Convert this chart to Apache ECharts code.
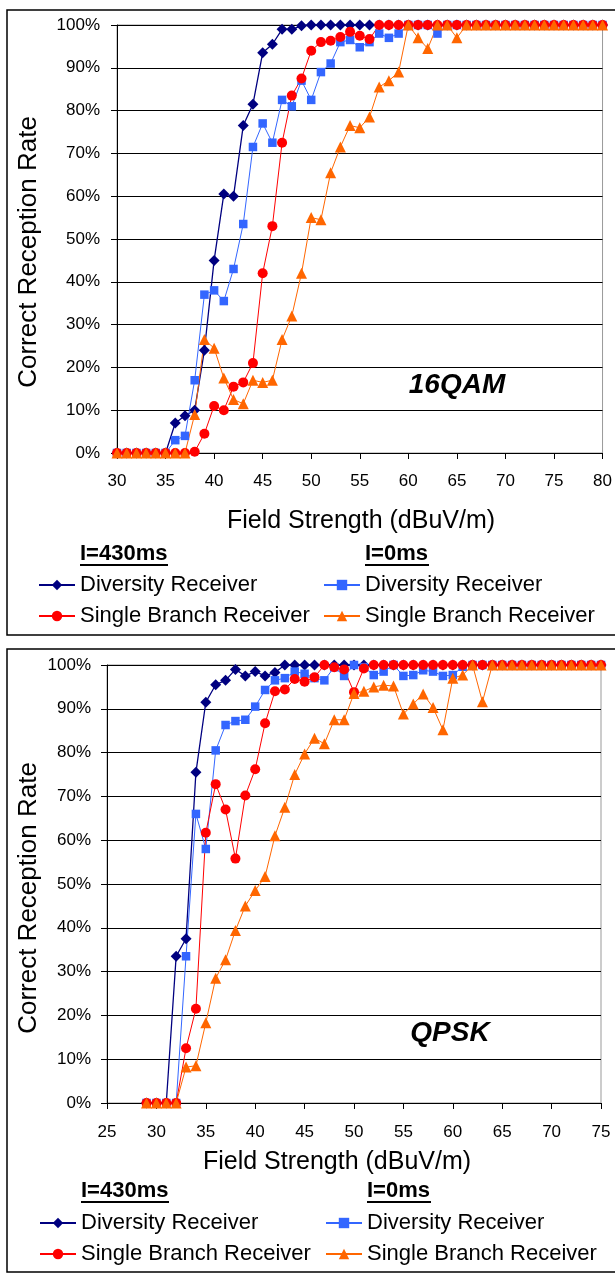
<!DOCTYPE html>
<html>
<head>
<meta charset="utf-8">
<script src="https://cdn.jsdelivr.net/npm/echarts@6/dist/echarts.min.js"></script>
<style>
  html, body { margin: 0; padding: 0; background: #fff; }
  #main { width: 615px; height: 1275px; }
</style>
</head>
<body>
<div id="main"></div>
<script>
// 获取dom节点并初始化
let chartDom = document.getElementById('main');
let myChart = echarts.init(chartDom);
let option;

const FONT = 'Liberation Sans, Arial, sans-serif';

/* 16QAM 数据 (dBuV/m -> %) */
let field16 = [30, 31, 32, 33, 34, 35, 36, 37, 38, 39, 40, 41, 42, 43, 44, 45, 46, 47, 48, 49, 50,
  51, 52, 53, 54, 55, 56, 57, 58, 59, 60, 61, 62, 63, 64, 65, 66, 67, 68, 69, 70,
  71, 72, 73, 74, 75, 76, 77, 78, 79, 80];
let div430_16 = [0, 0, 0, 0, 0, 0, 7, 8.7, 10, 24, 45, 60.5, 60, 76.5, 81.5, 93.5, 95.5, 99, 99, 99.8, 100,
  100, 100, 100, 100, 100, 100, 100, 100, 100, 100, 100, 100, 100, 100, 100, 100, 100, 100, 100, 100,
  100, 100, 100, 100, 100, 100, 100, 100, 100, 100];
let div0_16 = [0, 0, 0, 0, 0, 0, 3, 4, 17, 37, 38, 35.5, 43, 53.5, 71.5, 77, 72.5, 82.5, 81, 87, 82.5,
  89, 91, 96, 96.5, 94.8, 96, 98, 97, 98, 100, 100, 100, 98, 100, 100, 100, 100, 100, 100, 100,
  100, 100, 100, 100, 100, 100, 100, 100, 100, 100];
let sb430_16 = [0, 0, 0, 0, 0, 0, 0, 0, 0.3, 4.5, 11, 10, 15.5, 16.5, 21, 42, 53, 72.5, 83.5, 87.5, 94,
  96, 96.3, 97.2, 98.4, 97.5, 96.7, 100, 100, 100, 100, 100, 100, 100, 100, 100, 100, 100, 100, 100, 100,
  100, 100, 100, 100, 100, 100, 100, 100, 100, 100];
let sb0_16 = [0, 0, 0, 0, 0, 0, 0, 0, 9, 26.5, 24.5, 17.5, 12.5, 11.5, 17, 16.5, 17, 26.5, 32, 42, 55,
  54.5, 65.5, 71.5, 76.5, 76, 78.5, 85.5, 87, 89, 100, 97, 94.5, 100, 100, 97, 100, 100, 100, 100, 100,
  100, 100, 100, 100, 100, 100, 100, 100, 100, 100];

/* QPSK 数据 */
let fieldQ = [29, 30, 31, 32, 33, 34, 35, 36, 37, 38, 39, 40, 41, 42, 43, 44, 45, 46, 47, 48, 49, 50,
  51, 52, 53, 54, 55, 56, 57, 58, 59, 60, 61, 62, 63, 64, 65, 66, 67, 68, 69, 70,
  71, 72, 73, 74, 75];
let div430_Q = [0, 0, 0, 33.5, 37.5, 75.5, 91.5, 95.5, 96.5, 99, 97.5, 98.5, 97.5, 98.3, 100, 100, 100, 100, 100, 100, 100, 100,
  100, 100, 100, 100, 100, 100, 100, 100, 100, 100, 100, 100, 100, 100, 100, 100, 100, 100, 100, 100,
  100, 100, 100, 100, 100];
let div0_Q = [0, 0, 0, 0, 33.5, 66, 58, 80.5, 86.3, 87.2, 87.5, 90.5, 94.3, 96.5, 97, 98.5, 98, 97, 96.5, 99.5, 97.5, 100,
  99.5, 97.7, 98.5, 100, 97.5, 97.7, 98.8, 98.5, 97.5, 97.7, 99.6, 100, 100, 100, 100, 100, 100, 100, 100, 100,
  100, 100, 100, 100, 100];
let sb430_Q = [0, 0, 0, 0, 12.5, 21.5, 61.7, 72.8, 67, 55.8, 70.2, 76.2, 86.7, 94, 94.4, 96.8, 96.2, 97.2, 100, 99.5, 99, 93.8,
  99.2, 100, 100, 100, 100, 100, 100, 100, 100, 100, 100, 100, 100, 100, 100, 100, 100, 100, 100, 100,
  100, 100, 100, 100, 100];
let sb0_Q = [0, 0, 0, 0, 8.2, 8.5, 18.3, 28.5, 32.7, 39.4, 45, 48.5, 51.7, 61, 67.5, 75, 79.7, 83.3, 82, 87.5, 87.5, 93.5,
  94, 95, 95.4, 95.2, 88.8, 91.1, 93.4, 90.3, 85.2, 97, 97.7, 100, 91.6, 100, 100, 100, 100, 100, 100, 100,
  100, 100, 100, 100, 100];

// 系列样式
let styles = {
  div430: { color: '#000080', symbol: 'diamond', symbolSize: 11, width: 1.3 },
  div0: { color: '#3366ff', symbol: 'rect', symbolSize: 8.5, width: 1 },
  sb430: { color: '#ff0000', symbol: 'circle', symbolSize: 10, width: 1 },
  sb0: { color: '#ff6600', symbol: 'triangle', symbolSize: 11, width: 1 }
};

function pairs(xs, ys) {
  return xs.map((x, i) => [x, ys[i]]);
}

function makeSeries(name, key, idx, xs, ys) {
  let s = styles[key];
  return {
    name: name,
    type: 'line',
    xAxisIndex: idx,
    yAxisIndex: idx,
    symbol: s.symbol,
    symbolSize: s.symbolSize,
    showAllSymbol: true,
    itemStyle: { color: s.color },
    lineStyle: { color: s.color, width: s.width },
    emphasis: { disabled: true },
    animation: false,
    data: pairs(xs, ys)
  };
}

function makeXAxis(idx, min, max, margin) {
  return {
    type: 'value',
    gridIndex: idx,
    min: min,
    max: max,
    interval: 5,
    axisLine: { show: true, onZero: false, lineStyle: { color: '#000', width: 1 } },
    axisTick: { show: true, length: 6, lineStyle: { color: '#000' } },
    axisLabel: { color: '#000', fontSize: 17, fontFamily: FONT, margin: margin },
    splitLine: { show: false }
  };
}

function makeYAxis(idx, margin) {
  return {
    type: 'value',
    gridIndex: idx,
    min: 0,
    max: 100,
    interval: 10,
    axisLine: { show: true, lineStyle: { color: '#000', width: 1 } },
    axisTick: { show: true, length: 6, lineStyle: { color: '#000' } },
    axisLabel: { color: '#000', fontSize: 17, fontFamily: FONT, margin: margin, formatter: '{value}%' },
    splitLine: { show: true, lineStyle: { color: '#000', width: 1 } }
  };
}

function makeLegend(name, text, left, centerY) {
  return {
    data: [name],
    left: left,
    top: centerY - 12,
    itemWidth: 36,
    itemHeight: 13,
    itemGap: 0,
    padding: 0,
    selectedMode: false,
    formatter: text,
    textStyle: { fontSize: 22, fontFamily: FONT, color: '#000' }
  };
}

function headText(text, left, centerY, width) {
  return [
    {
      type: 'text', left: left, top: centerY - 11,
      style: { text: text, font: 'bold 22px ' + FONT, fill: '#000' }
    },
    {
      type: 'line',
      shape: { x1: left, y1: centerY + 11, x2: left + width, y2: centerY + 11 },
      style: { stroke: '#000', lineWidth: 2 }
    }
  ];
}

/* 参数配置 */
option = {
  backgroundColor: '#fff',
  animation: false,
  grid: [
    { left: 117, top: 25, width: 486, height: 428, show: true, borderColor: '#999', borderWidth: 1 },
    { left: 107, top: 665, width: 494, height: 438, show: true, borderColor: '#999', borderWidth: 1 }
  ],
  xAxis: [makeXAxis(0, 30, 80, 20), makeXAxis(1, 25, 75, 21)],
  yAxis: [makeYAxis(0, 17), makeYAxis(1, 16)],
  legend: [
    makeLegend('q_div430', 'Diversity Receiver', 38, 586),
    makeLegend('q_div0', 'Diversity Receiver', 323, 586),
    makeLegend('q_sb430', 'Single Branch Receiver', 38, 617),
    makeLegend('q_sb0', 'Single Branch Receiver', 323, 617),
    makeLegend('p_div430', 'Diversity Receiver', 39, 1224),
    makeLegend('p_div0', 'Diversity Receiver', 325, 1224),
    makeLegend('p_sb430', 'Single Branch Receiver', 39, 1255),
    makeLegend('p_sb0', 'Single Branch Receiver', 325, 1255)
  ],
  graphic: [
    // 外框
    { type: 'rect', shape: { x: 7, y: 10, width: 620, height: 625 }, style: { fill: 'none', stroke: '#000', lineWidth: 1.5 }, z: -1 },
    { type: 'rect', shape: { x: 7, y: 649, width: 620, height: 623 }, style: { fill: 'none', stroke: '#000', lineWidth: 1.5 }, z: -1 },
    // 轴标题
    { type: 'text', x: 29, y: 252, rotation: Math.PI / 2,
      style: { text: 'Correct Reception Rate', font: '26px ' + FONT, fill: '#000', textAlign: 'center', textVerticalAlign: 'middle' } },
    { type: 'text', x: 29, y: 898, rotation: Math.PI / 2,
      style: { text: 'Correct Reception Rate', font: '26px ' + FONT, fill: '#000', textAlign: 'center', textVerticalAlign: 'middle' } },
    { type: 'text', x: 361, y: 521,
      style: { text: 'Field Strength (dBuV/m)', font: '25px ' + FONT, fill: '#000', textAlign: 'center', textVerticalAlign: 'middle' } },
    { type: 'text', x: 337, y: 1162,
      style: { text: 'Field Strength (dBuV/m)', font: '25px ' + FONT, fill: '#000', textAlign: 'center', textVerticalAlign: 'middle' } },
    // 调制方式
    { type: 'text', x: 457, y: 385,
      style: { text: '16QAM', font: 'italic bold 28px ' + FONT, fill: '#000', textAlign: 'center', textVerticalAlign: 'middle' } },
    { type: 'text', x: 450, y: 1033,
      style: { text: 'QPSK', font: 'italic bold 28px ' + FONT, fill: '#000', textAlign: 'center', textVerticalAlign: 'middle' } }
  ]
    .concat(headText('I=430ms', 80, 554, 88))
    .concat(headText('I=0ms', 365, 554, 64))
    .concat(headText('I=430ms', 81, 1191, 88))
    .concat(headText('I=0ms', 367, 1191, 64)),
  series: [
    makeSeries('q_div430', 'div430', 0, field16, div430_16),
    makeSeries('q_div0', 'div0', 0, field16, div0_16),
    makeSeries('q_sb430', 'sb430', 0, field16, sb430_16),
    makeSeries('q_sb0', 'sb0', 0, field16, sb0_16),
    makeSeries('p_div430', 'div430', 1, fieldQ, div430_Q),
    makeSeries('p_div0', 'div0', 1, fieldQ, div0_Q),
    makeSeries('p_sb430', 'sb430', 1, fieldQ, sb430_Q),
    makeSeries('p_sb0', 'sb0', 1, fieldQ, sb0_Q)
  ]
};

option && myChart.setOption(option);
</script>
</body>
</html>
